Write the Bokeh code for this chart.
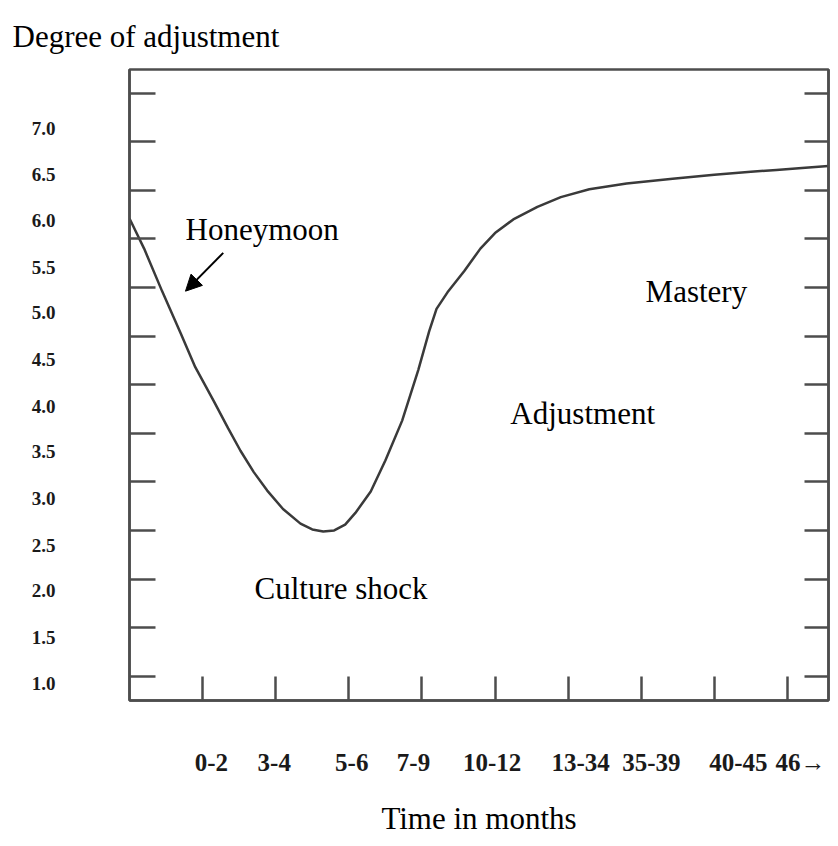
from bokeh.plotting import figure
from bokeh.models import Range1d, LinearAxis, FixedTicker, Label, Arrow, NormalHead, Title
from bokeh.embed import file_html
from bokeh.resources import INLINE

# ---- data ----
y_ticks = [1.0, 1.5, 2.0, 2.5, 3.0, 3.5, 4.0, 4.5, 5.0, 5.5, 6.0, 6.5, 7.0]
y_tick_labels = ["1.0", "1.5", "2.0", "2.5", "3.0", "3.5", "4.0", "4.5", "5.0", "5.5", "6.0", "6.5", "7.0"]
# the printed labels sit a little below their tick marks in the source figure
y_label_pos = [0.925, 1.40, 1.88, 2.35, 2.83, 3.31, 3.78, 4.26, 4.74, 5.21, 5.69, 6.16, 6.64]

x_ticks = [1, 2, 3, 4, 5, 6, 7, 8, 9]
x_labels = ["0-2", "3-4", "5-6", "7-9", "10-12", "13-34", "35-39", "40-45", "46\u2192"]
x_label_pos = [1.12, 1.98, 3.04, 3.885, 4.96, 6.17, 7.14, 8.33, 9.18]

curve_x = [0.00, 0.20, 0.447, 0.70, 0.90, 1.153, 1.35, 1.518, 1.70, 1.884, 2.10, 2.339,
           2.50, 2.65, 2.80, 2.95, 3.09, 3.30, 3.50, 3.73, 3.95, 4.10, 4.20, 4.35, 4.58,
           4.80, 5.00, 5.25, 5.58, 5.90, 6.29, 6.80, 7.43, 8.00, 8.50, 8.85, 9.20, 9.56]
curve_y = [5.71, 5.40, 4.96, 4.53, 4.18, 3.83, 3.55, 3.32, 3.10, 2.91, 2.72, 2.57,
           2.51, 2.49, 2.50, 2.56, 2.68, 2.90, 3.22, 3.63, 4.15, 4.55, 4.78, 4.95, 5.17,
           5.40, 5.56, 5.70, 5.83, 5.93, 6.01, 6.07, 6.12, 6.16, 6.19, 6.21, 6.23, 6.25]

LINE = "#4d4d4d"
SERIF = "Liberation Serif"

p = figure(width=830, height=838,
           x_range=Range1d(0, 9.562), y_range=Range1d(0.75, 7.243),
           x_axis_type=None, y_axis_type=None,
           output_backend="svg", toolbar_location=None,
           min_border_left=129, min_border_right=2,
           min_border_top=68, min_border_bottom=138)
p.outline_line_color = LINE
p.outline_line_width = 2.5
p.background_fill_color = "white"
p.border_fill_color = "white"

p.title = Title(text="Degree of adjustment", align="left", offset=-117, standoff=32,
                text_font=SERIF, text_font_size="31px", text_font_style="normal",
                text_color="black")


def labelled_axis(label_pos, labels, tick_pos, tick_len, standoff, size):
    # printed labels on the major ticks (no marks), tick marks on the minor ticks
    return LinearAxis(
        ticker=FixedTicker(ticks=label_pos, minor_ticks=tick_pos),
        major_label_overrides=dict(zip(label_pos, labels)),
        major_tick_in=0, major_tick_out=0, major_tick_line_color=None,
        minor_tick_in=tick_len, minor_tick_out=0,
        minor_tick_line_color=LINE, minor_tick_line_width=2.5,
        axis_line_color=LINE, axis_line_width=2.5,
        major_label_standoff=standoff,
        major_label_text_font=SERIF, major_label_text_font_style="bold",
        major_label_text_font_size=size, major_label_text_color="#1a1a1a",
    )


left_axis = labelled_axis(y_label_pos, y_tick_labels, y_ticks, 26, 74, "19px")
p.add_layout(left_axis, "left")

bottom_axis = labelled_axis(x_label_pos, x_labels, x_ticks, 24, 48, "25px")
bottom_axis.axis_label = "Time in months"
bottom_axis.axis_label_standoff = 22
bottom_axis.axis_label_text_font = SERIF
bottom_axis.axis_label_text_font_size = "31px"
bottom_axis.axis_label_text_font_style = "normal"
bottom_axis.axis_label_text_color = "black"
p.add_layout(bottom_axis, "below")

right_axis = LinearAxis(
    ticker=FixedTicker(ticks=y_ticks),
    major_tick_in=24, major_tick_out=0,
    major_tick_line_color=LINE, major_tick_line_width=2.5,
    minor_tick_line_color=None,
    axis_line_color=LINE, axis_line_width=2.5,
    major_label_overrides={t: "" for t in y_ticks},
    major_label_standoff=0, major_label_text_font_size="1px",
)
p.add_layout(right_axis, "right")

p.line(curve_x, curve_y, line_color="#3a3a3a", line_width=2.5)

p.add_layout(Arrow(end=NormalHead(size=16, fill_color="black", line_color="black"),
                   x_start=1.282, y_start=5.356, x_end=0.766, y_end=4.962,
                   line_width=2, line_color="black"))

texts = [
    ("Honeymoon", 0.766, 5.60),
    ("Mastery", 7.06, 4.96),
    ("Adjustment", 5.21, 3.70),
    ("Culture shock", 1.71, 1.90),
]
for t, x, y in texts:
    p.add_layout(Label(x=x, y=y, text=t, text_font=SERIF, text_font_size="31px",
                       text_baseline="alphabetic", text_align="left", text_color="black"))

open("out.html", "w").write(file_html(p, INLINE))
